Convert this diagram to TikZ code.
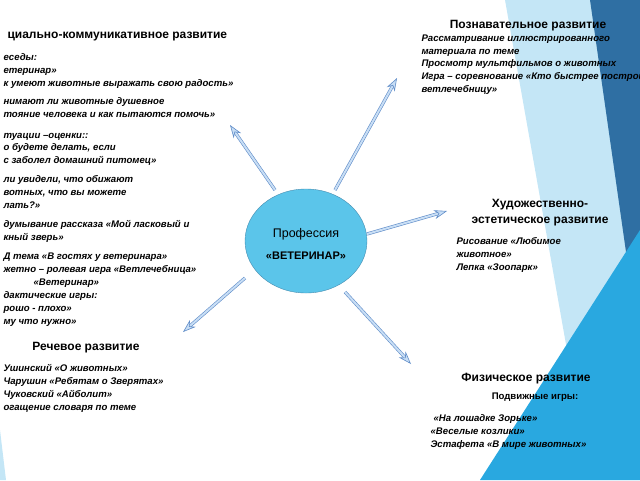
\documentclass[tikz,border=0pt]{standalone}
\usepackage{fontspec}
\setmainfont{Liberation Sans}
\usetikzlibrary{arrows.meta,shapes.geometric}
\definecolor{ringblue}{RGB}{91, 197, 234}
\definecolor{ringline}{RGB}{70, 140, 175}
\definecolor{arrline}{RGB}{95, 140, 200}
\definecolor{arrfill}{RGB}{200, 222, 245}
\definecolor{paleblue}{RGB}{196, 230, 246}
\definecolor{skyblue}{RGB}{41, 168, 224}
\definecolor{deepblue}{RGB}{47, 111, 163}

\tikzset{
  head/.style={anchor=base, font=\fontsize{12}{14}\selectfont\bfseries},
  item/.style={anchor=base west, font=\fontsize{9.6}{11}\selectfont\bfseries\itshape},
  ray/.style={draw=arrline, double=arrfill, double distance=2pt, line width=0.6pt,
    -{Stealth[length=13pt, width=9pt, fill=arrfill, color=arrline]}}
}

\begin{document}
\begin{tikzpicture}[x=1pt, y=-1pt]
  \useasboundingbox (0,0) rectangle (640,480);
  % background panels
  \fill[paleblue]  (505,0) -- (640,0) -- (640,480) -- (590,480) -- cycle;
  \fill[deepblue]  (590,0) -- (640,0) -- (640,350) -- cycle;
  \fill[skyblue]   (480,480) -- (640,230) -- (640,480) -- cycle;
  \fill[paleblue]  (0,430) -- (6,480) -- (0,480) -- cycle;

  % centre
  \node[draw=ringline, fill=ringblue, ellipse, inner sep=0pt,
        minimum width=122pt, minimum height=104pt] (core) at (306,241) {};
  \node[anchor=base, font=\fontsize{12.5}{14}\selectfont] (prof) at (306,237) {Профессия};
  \node[anchor=base, font=\fontsize{11}{14}\selectfont\bfseries] (vet) at (306,259) {«ВЕТЕРИНАР»};

  \coordinate (c1) at (275,190); \coordinate (t1) at (230,125);
  \coordinate (c2) at (335,190); \coordinate (t2) at (397,78);
  \coordinate (c3) at (367,234); \coordinate (t3) at (447,211);
  \coordinate (c4) at (245,278); \coordinate (t4) at (183,332);
  \coordinate (c5) at (345,292); \coordinate (t5) at (411,364);
  \foreach \i in {1,...,5}
    \draw[ray] (c\i) -- (t\i);

  % social block
  \node[head, anchor=base west] (soc) at (4,38) {циально-коммуникативное развитие};
  \foreach \y/\t in {60/еседы:, 73/етеринар», 86/к умеют животные выражать свою радость»,
      104/нимают ли животные душевное, 117/тояние человека и как пытаются помочь»,
      138/туации –оценки::, 150/{о будете делать, если}, 163/с заболел домашний питомец»,
      182/{ли увидели, что обижают}, 195/{вотных, что вы можете}, 208/лать?»,
      227/думывание рассказа «Мой ласковый и, 240/кный зверь»,
      259/Д тема «В гостях у ветеринара», 272/жетно – ролевая игра «Ветлечебница»,
      298/дактические игры:, 311/рошо - плохо», 324/му что нужно»}
    \node[item] at (0,\y) {\t};
  \node[item] (vetgame) at (30,285) {«Ветеринар»};

  % cognitive block
  \node[head] (cog) at (528,28) {Познавательное развитие};
  \node[item] at (418,41) {Рассматривание иллюстрированного};
  \node[item] at (418,54) {материала по теме};
  \node[item] at (418,66) {Просмотр мультфильмов о животных};
  \node[item] at (418,79) {Игра – соревнование «Кто быстрее построит};
  \node[item] at (418,92) {ветлечебницу»};

  % art block
  \node[head] (art1) at (540,207) {Художественно-};
  \node[head] (art2) at (540,223) {эстетическое развитие};
  \node[item] at (453,244) {Рисование «Любимое};
  \node[item] at (453,257) {животное»};
  \node[item] at (453,270) {Лепка «Зоопарк»};

  % physical block
  \node[head] (phys) at (526,381) {Физическое развитие};
  \node[anchor=base, font=\fontsize{9.6}{11}\selectfont\bfseries] (games) at (535,399) {Подвижные игры:};
  \node[item] at (430,421) {«На лошадке Зорьке»};
  \node[item] at (427,434) {«Веселые козлики»};
  \node[item] at (427,447) {Эстафета «В мире животных»};

  % speech block
  \node[head] (speech) at (86,350) {Речевое развитие};
  \node[item] at (0,371) {Ушинский «О животных»};
  \node[item] at (0,384) {Чарушин «Ребятам о Зверятах»};
  \node[item] at (0,397) {Чуковский «Айболит»};
  \node[item] at (0,410) {огащение словаря по теме};
\end{tikzpicture}
\end{document}
